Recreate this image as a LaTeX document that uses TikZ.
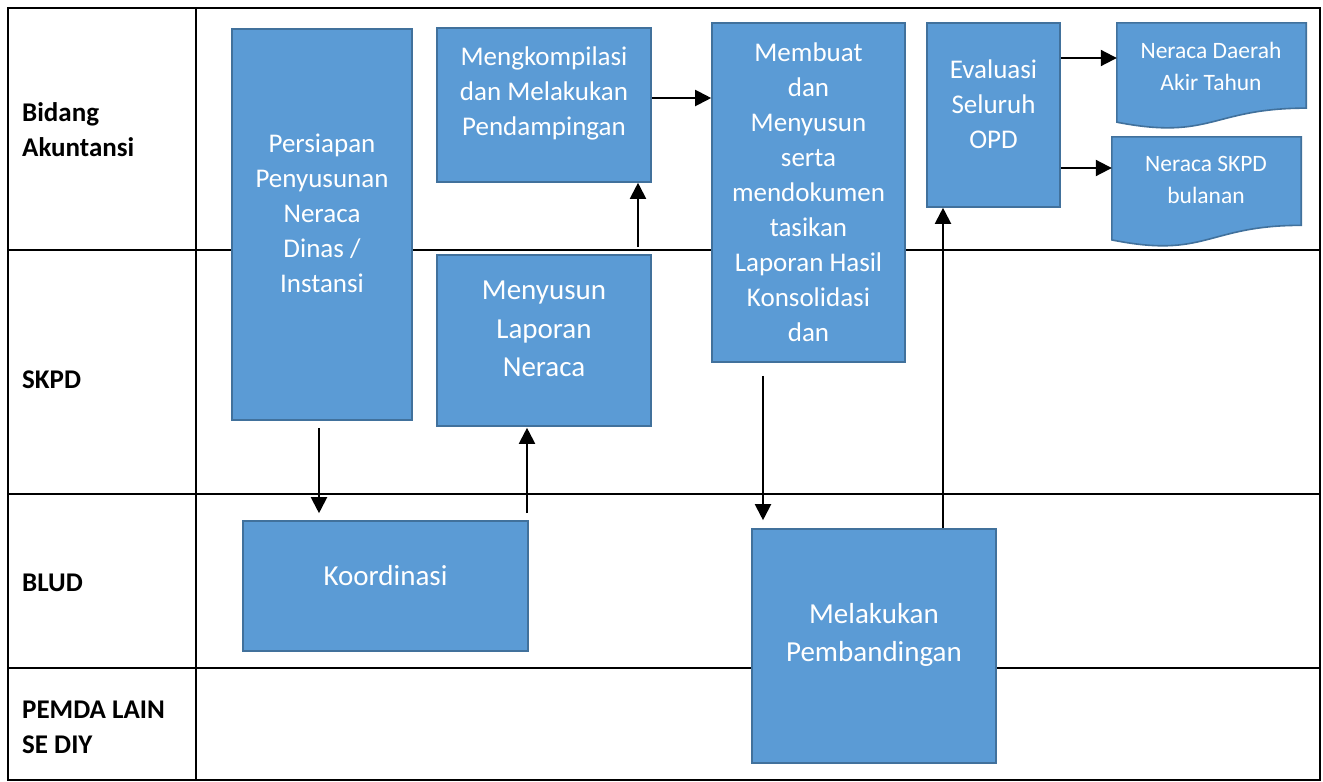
\documentclass[tikz,border=0pt]{standalone}
\usepackage{fontspec}
\setmainfont{Carlito}
\usetikzlibrary{arrows.meta,calc}
\definecolor{boxfill}{HTML}{5B9BD5}
\definecolor{boxline}{HTML}{41719C}
\begin{document}
\begin{tikzpicture}[x=1pt,y=-1pt,
  procbox/.style={draw=boxline,line width=1.6pt,fill=boxfill,inner sep=0pt},
  docframe/.style={inner sep=0pt},
  txt/.style={text=white,align=center,inner sep=0pt,font=\fontsize{27}{35}\selectfont},
  bigtxt/.style={txt,font=\fontsize{29}{38.5}\selectfont},
  smalltxt/.style={txt,font=\fontsize{23.5}{32}\selectfont},
  lane/.style={font=\bfseries\fontsize{27}{35}\selectfont,align=left,anchor=west,inner sep=0pt},
  arr/.style={line width=2pt,-{Triangle[length=16pt,width=16pt]}},
  grid/.style={line width=2pt}]
\useasboundingbox (0,0) rectangle (1323,782);
\fill[white] (0,0) rectangle (1323,782);

% swimlane table
\draw[grid] (8,8) rectangle (1320,780);
\draw[grid] (196,8) -- (196,780);
\draw[grid] (8,250) -- (1320,250);
\draw[grid] (8,494) -- (1320,494);
\draw[grid] (8,668) -- (1320,668);

% lane titles
\node[lane] (l1) at (22,130) {Bidang\\Akuntansi};
\node[lane] (l2) at (22,380) {SKPD};
\node[lane] (l3) at (22,583) {BLUD};
\node[lane] (l4) at (22,727) {PEMDA LAIN\\SE DIY};

% process boxes
\node[procbox,minimum width=180,minimum height=391] (persiapan) at (322,224.5) {};
\node[procbox,minimum width=214,minimum height=154] (kompilasi) at (544,105) {};
\node[procbox,minimum width=214,minimum height=171] (menyusun) at (544,340.5) {};
\node[procbox,minimum width=285,minimum height=130] (koord) at (385.5,586) {};
\node[procbox,minimum width=193,minimum height=339] (membuat) at (808.5,192.5) {};
\node[procbox,minimum width=133,minimum height=184] (evaluasi) at (993.5,115) {};
\node[procbox,minimum width=244,minimum height=234] (banding) at (874,646) {};

% document shapes
\node[docframe,minimum width=189,minimum height=106] (nd) at (1211.5,76) {};
\node[docframe,minimum width=189,minimum height=110] (ns) at (1206.5,192) {};
\foreach \d in {nd,ns}{
  \draw[procbox] (\d.north west) -- (\d.north east)
    -- ($(\d.north east)!0.802!(\d.south east)$)
    .. controls ($(\d.north)!0.802!(\d.south)$) and ($(\d.north)!1.107!(\d.south)$)
    .. ($(\d.north west)!0.934!(\d.south west)$) -- cycle;
}

% box texts
\node[txt] (tPersiapan) at (322,213) {Persiapan\\Penyusunan\\Neraca\\Dinas /\\Instansi};
\node[txt] (tKompilasi) at (544,93) {Mengkompilasi\\dan Melakukan\\Pendampingan};
\node[bigtxt] (tMenyusun) at (544,329) {Menyusun\\Laporan\\Neraca};
\node[bigtxt] (tKoord) at (385.5,576) {Koordinasi};
\node[txt] (tMembuat) at (808.5,192) {Membuat\\dan\\Menyusun\\serta\\mendokumen\\tasikan\\Laporan Hasil\\Konsolidasi\\dan};
\node[txt] (tEvaluasi) at (993.5,104) {Evaluasi\\Seluruh\\OPD};
\node[bigtxt] (tBanding) at (874,635) {Melakukan\\Pembandingan};
\node[smalltxt] (tND) at (1211,66) {Neraca Daerah\\Akir Tahun};
\node[smalltxt] (tNS) at (1206,180) {Neraca SKPD\\bulanan};

% connector guide points
\coordinate (xa) at (319,0);
\coordinate (xb) at (527,0);
\coordinate (xc) at (638,0);
\coordinate (xd) at (763,0);
\coordinate (xe) at (943,0);
\coordinate (ya) at (0,98);
\coordinate (yb) at (0,58);
\coordinate (yc) at (0,168);

% connectors
\draw[arr,shorten <=7pt,shorten >=7pt] (persiapan.south -| xa) -- (koord.north -| xa);
\draw[arr,shorten <=7pt,shorten >=1pt] (koord.north -| xb) -- (menyusun.south -| xb);
\draw[arr,shorten <=7pt] (menyusun.north -| xc) -- (kompilasi.south -| xc);
\draw[arr] (kompilasi.east |- ya) -- (membuat.west |- ya);
\draw[arr,shorten <=13pt,shorten >=8pt] (membuat.south -| xd) -- (banding.north -| xd);
\draw[arr] (banding.north -| xe) -- (evaluasi.south -| xe);
\draw[arr] (evaluasi.east |- yb) -- (nd.west |- yb);
\draw[arr] (evaluasi.east |- yc) -- (ns.west |- yc);
\end{tikzpicture}
\end{document}
